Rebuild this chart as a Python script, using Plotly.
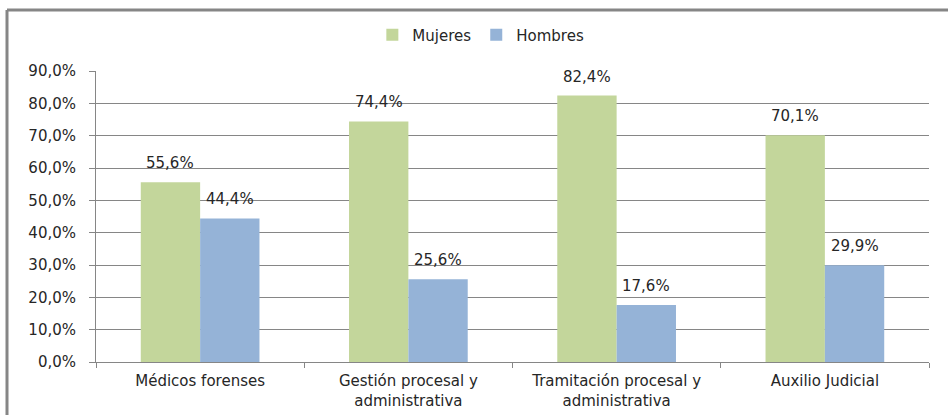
import plotly.graph_objects as go

categorias = ["Médicos forenses", "Gestión procesal y<br>administrativa",
              "Tramitación procesal y<br>administrativa", "Auxilio Judicial"]
mujeres = [55.6, 74.4, 82.4, 70.1]
hombres = [44.4, 25.6, 17.6, 29.9]

W, H = 948, 415
L, R, T, B = 96, 19, 71, 53
pw, ph = W - L - R, H - T - B

grey = "#868686"
font = dict(family="DejaVu Sans", size=15, color="#262626")
bargap = 0.43
offset = (1 - bargap) / 4  # centre of each bar relative to its category


def etiqueta(v):
    return f"{v:.1f}".replace(".", ",") + "%"


fig = go.Figure()
fig.add_bar(x=categorias, y=mujeres, name="Mujeres", marker=dict(color="#C3D69B", line=dict(width=0)))
fig.add_bar(x=categorias, y=hombres, name="Hombres", marker=dict(color="#95B3D7", line=dict(width=0)))

# value labels above each bar
for serie, desplaz in ((mujeres, -offset), (hombres, offset)):
    for i, v in enumerate(serie):
        fig.add_annotation(x=i + desplaz, y=v, xref="x", yref="y", text=etiqueta(v),
                           showarrow=False, yanchor="bottom", yshift=8, font=font)

# chart frame (top and left edges)
x0 = (7 - L) / pw
y0 = 1 + (T - 10) / ph
fig.add_shape(type="line", xref="paper", yref="paper", x0=x0, x1=(W + 5 - L) / pw, y0=y0, y1=y0,
              line=dict(color=grey, width=3))
fig.add_shape(type="line", xref="paper", yref="paper", x0=x0, x1=x0, y0=y0, y1=-(B + 5) / ph,
              line=dict(color=grey, width=3))

fig.update_layout(
    width=W, height=H,
    margin=dict(l=L, r=R, t=T, b=B, autoexpand=False),
    paper_bgcolor="white", plot_bgcolor="white",
    barmode="group", bargap=bargap, bargroupgap=0,
    separators=",.",
    font=font,
    showlegend=True,
    legend=dict(orientation="h", x=0.462, xanchor="center", y=1 + (T - 35) / ph, yanchor="middle",
                font=font, itemwidth=30, tracegroupgap=0),
    xaxis=dict(showline=True, linecolor=grey, linewidth=1, ticks="outside", tickson="boundaries",
               ticklen=5, tickcolor=grey, tickfont=font, showgrid=False, ticklabelstandoff=5,
               automargin=False),
    yaxis=dict(range=[0, 90], dtick=10, tickformat=".1f", ticksuffix="%", showline=True,
               linecolor=grey, linewidth=1, ticks="outside", ticklen=6, tickcolor=grey,
               showgrid=True, gridcolor=grey, gridwidth=1, tickfont=font, zeroline=False,
               ticklabelstandoff=10, automargin=False),
)

fig.write_html("out.html")
